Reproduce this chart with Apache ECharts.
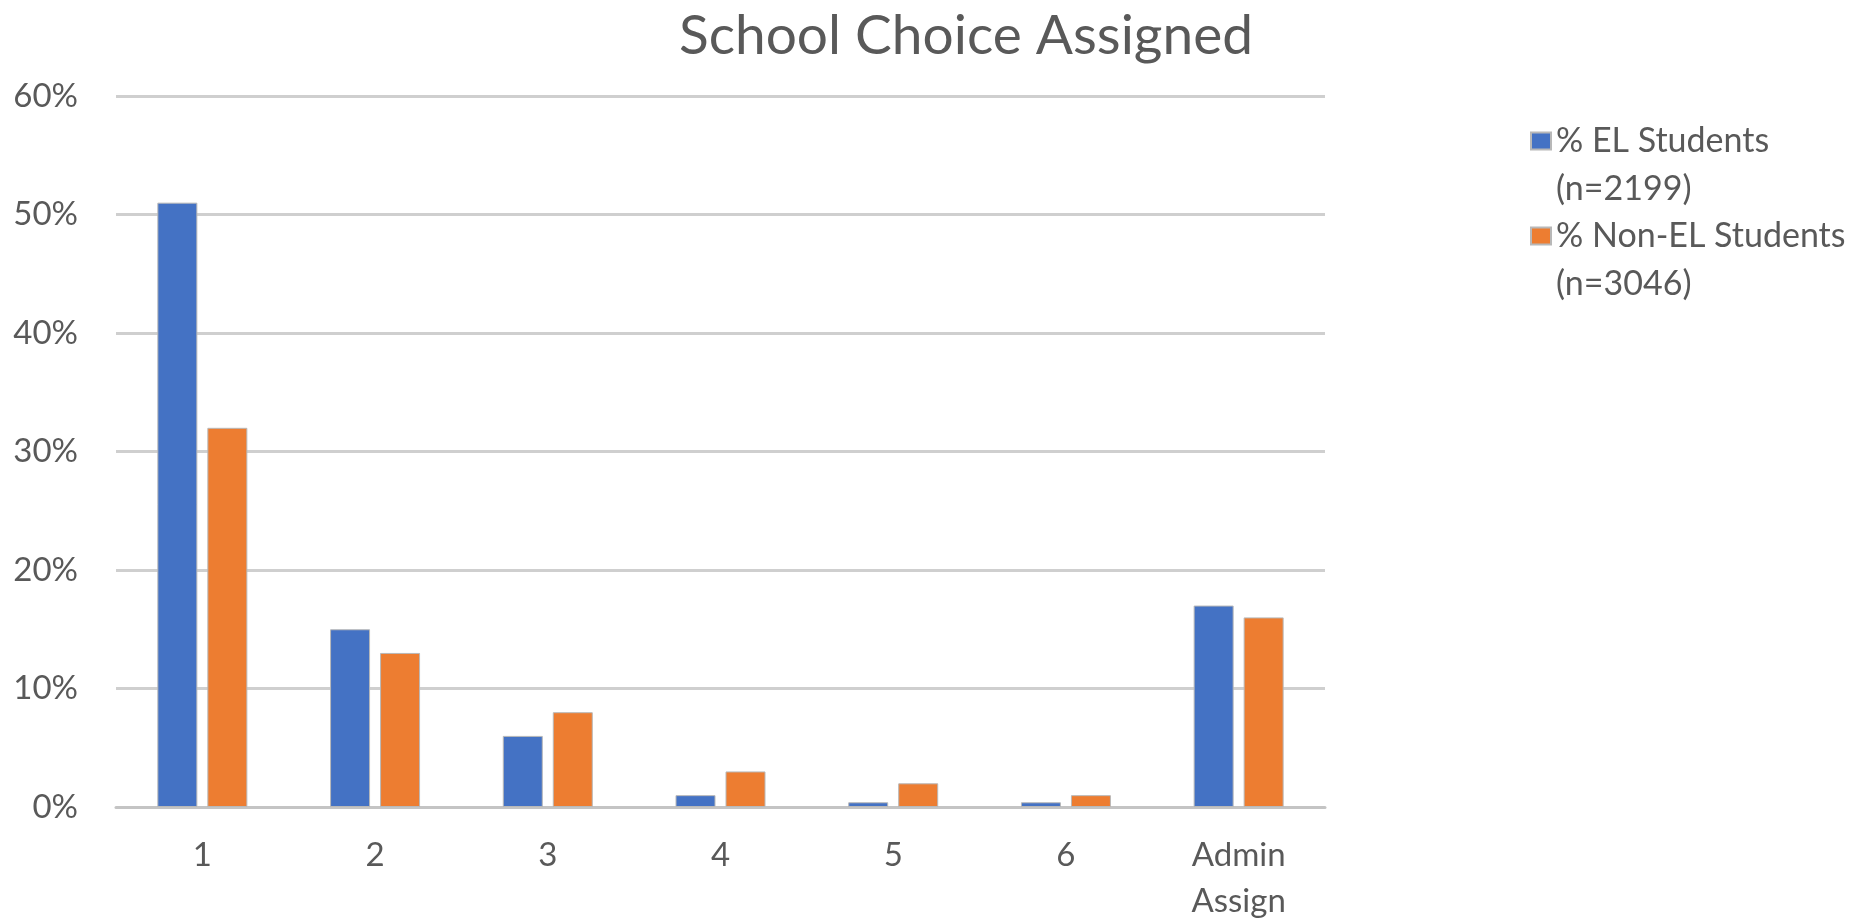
<!DOCTYPE html>
<html>
<head>
<meta charset="utf-8">
<script src="https://cdn.jsdelivr.net/npm/echarts@6/dist/echarts.min.js"></script>
<style>
html,body{margin:0;padding:0;background:#fff;}
#main{width:1862px;height:924px;}
</style>
</head>
<body>
<div id="main"></div>
<script>
const categories = ['1', '2', '3', '4', '5', '6', 'Admin\nAssign'];
const elStudents = [51, 15, 6, 1, 0.4, 0.4, 17];
const nonElStudents = [32, 13, 8, 3, 2, 1, 16];
const seriesNames = ['% EL Students\n(n=2199)', '% Non-EL Students\n(n=3046)'];
const yTicks = { min: 0, max: 60, interval: 10 };

const FONT = 'Lato';
const TXT = '#595959';
const chart = echarts.init(document.getElementById('main'));
chart.setOption({
  animation: false,
  backgroundColor: '#fff',
  title: {
    text: 'School Choice Assigned',
    left: 961, textAlign: 'center',
    top: 4,
    textStyle: { fontFamily: FONT, fontSize: 55, fontWeight: 'normal', color: TXT }
  },
  legend: {
    orient: 'vertical',
    left: 1530, top: 69,
    padding: 0,
    itemWidth: 20, itemHeight: 17,
    itemGap: -49,
    icon: 'rect',
    formatter: function (name) { return '\n' + name; },
    textStyle: { fontFamily: FONT, fontSize: 34, color: TXT, lineHeight: 48 },
    data: seriesNames
  },
  grid: { left: 116, right: 537, top: 96, bottom: 112, containLabel: false },
  xAxis: {
    type: 'category',
    data: categories,
    axisTick: { show: false },
    axisLine: { lineStyle: { color: '#c4c4c4', width: 3 } },
    axisLabel: { fontFamily: FONT, fontSize: 33, color: TXT, lineHeight: 46, margin: 25 }
  },
  yAxis: {
    type: 'value',
    min: yTicks.min, max: yTicks.max, interval: yTicks.interval,
    axisLine: { show: false },
    axisTick: { show: false },
    axisLabel: { formatter: '{value}%', fontFamily: FONT, fontSize: 33, color: TXT, margin: 38 },
    splitLine: { lineStyle: { color: '#cfcfcf', width: 3 } }
  },
  series: [
    {
      name: seriesNames[0], type: 'bar', data: elStudents,
      barWidth: 40, barGap: '25%',
      itemStyle: { color: '#4472C4', borderColor: '#b8b8b8', borderWidth: 1 }
    },
    {
      name: seriesNames[1], type: 'bar', data: nonElStudents,
      barWidth: 40,
      itemStyle: { color: '#ED7D31', borderColor: '#b8b8b8', borderWidth: 1 }
    }
  ]
});
</script>
</body>
</html>
